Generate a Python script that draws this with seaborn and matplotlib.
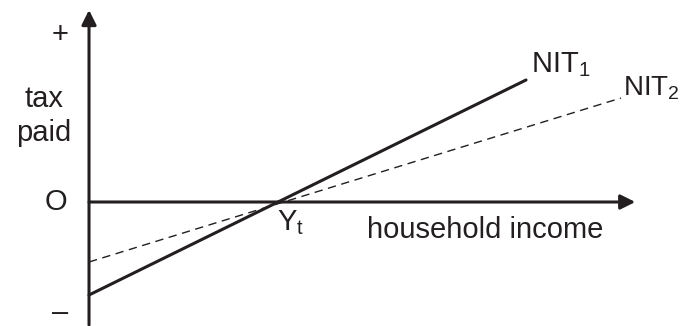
import matplotlib
matplotlib.use("Agg")
import matplotlib.pyplot as plt
import seaborn as sns
import pandas as pd

# data (income in arbitrary units, Yt = 4)
income_nit1 = [0.0, 9.2]
tax_nit1 = [-4.65, 6.1]
income_nit2 = [0.0, 11.2]
tax_nit2 = [-3.0, 5.2]
yt = 4.0
line_labels = ["NIT$_1$", "NIT$_2$"]

sns.set_style("white")
plt.rcParams['font.family'] = ['Liberation Sans', 'DejaVu Sans']
plt.rcParams['mathtext.fontset'] = 'custom'
plt.rcParams['mathtext.rm'] = 'Liberation Sans'
plt.rcParams['mathtext.it'] = 'Liberation Sans'

df1 = pd.DataFrame({'income': income_nit1, 'tax': tax_nit1})
df2 = pd.DataFrame({'income': income_nit2, 'tax': tax_nit2})

fig = plt.figure(figsize=(6.85, 3.26), dpi=100)
ax = fig.add_axes([0, 0, 1, 1])
ax.set_xlim(-1.874, 12.547)
ax.set_ylim(-6.2, 10.1)
ax.axis('off')

col = '#231f20'

# axes with arrows
ax.annotate('', xy=(11.5, 0), xytext=(0, 0),
            arrowprops=dict(arrowstyle='-|>', color=col, lw=2.2, mutation_scale=22, shrinkA=0, shrinkB=0))
ax.annotate('', xy=(0, 9.6), xytext=(0, -6.15),
            arrowprops=dict(arrowstyle='-|>', color=col, lw=2.2, mutation_scale=22, shrinkA=0, shrinkB=0))

sns.lineplot(data=df1, x='income', y='tax', ax=ax, color=col, lw=2.2)
sns.lineplot(data=df2, x='income', y='tax', ax=ax, color=col, lw=1.0, linestyle=(0, (6, 4)))

fs = 21
ax.text(-0.6, 8.35, '+', fontsize=fs, ha='center', va='center', color=col)
ax.text(-0.6, -5.55, '–', fontsize=fs, ha='center', va='center', color=col)
ax.text(-0.7, 0.0, 'O', fontsize=fs, ha='center', va='center', color=col)
ax.text(-0.95, 5.15, 'tax', fontsize=fs, ha='center', va='center', color=col)
ax.text(-0.95, 3.45, 'paid', fontsize=fs, ha='center', va='center', color=col)
ax.text(yt + 0.25, -1.05, 'Y$_\\mathrm{t}$', fontsize=fs, ha='center', va='center', color=col)
ax.text(5.85, -1.4, 'household income', fontsize=fs, ha='left', va='center', color=col)
ax.text(income_nit1[1] + 0.1, tax_nit1[1] + 0.75, line_labels[0], fontsize=fs, ha='left', va='center', color=col)
ax.text(income_nit2[1] + 0.05, tax_nit2[1] + 0.5, line_labels[1], fontsize=20, ha='left', va='center', color=col)

plt.savefig('out.png', dpi=100)
